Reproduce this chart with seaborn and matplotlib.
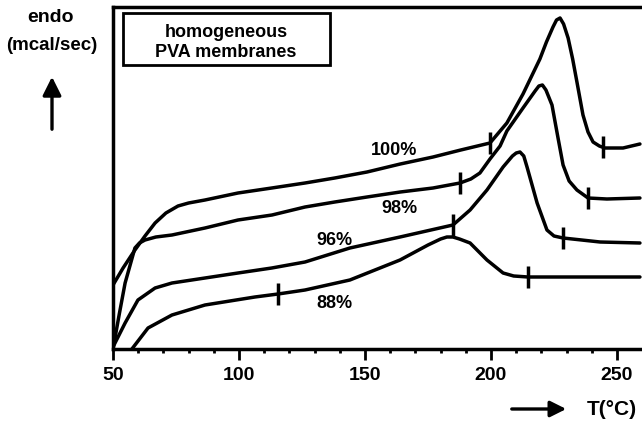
import numpy as np
import pandas as pd
import matplotlib
matplotlib.use("Agg")
import matplotlib.pyplot as plt
from matplotlib.patches import Rectangle, FancyArrowPatch
from matplotlib.ticker import MultipleLocator
import seaborn as sns

# DSC heating scans of homogeneous PVA membranes (degree of hydrolysis)
# temperature in deg C, heat flow in arbitrary units (endo up)
t_100 = [50, 54, 58.7, 62.7, 66.7, 71, 75.8, 80, 86.5, 99.6, 113, 126.2, 138, 150.8,
         164, 177, 188, 199.6, 206.3, 212.7, 219.4, 222, 224.6, 226, 227.4, 228.8,
         230.6, 232.4, 234.1, 236.5, 238.5, 240.5, 243, 245.2, 252.4, 259.1]
q_100 = [64, 81, 99, 113, 126, 136, 143, 146, 149, 156, 161, 166, 171, 177,
         185, 192, 199, 206, 226, 255, 290, 307, 322, 329, 331, 325,
         311, 290, 267, 234, 217, 207, 203, 201, 201, 205]

t_98 = [50, 52.5, 54.8, 58.7, 60.5, 62.7, 67, 73.4, 86.5, 99.6, 113.1, 126.2, 138, 150.8,
        164, 177, 187.7, 192, 195.6, 199.6, 203.6, 206.3, 212.7, 217.5, 219, 220.4,
        221.8, 224.2, 226.6, 228.6, 231, 234.1, 238.5, 246, 259.1]
q_98 = [0, 35, 66, 101, 106, 109, 112, 114, 121, 129, 134, 142, 147, 152,
        157, 161, 166, 170, 176, 190, 203, 218, 241, 258, 263, 264,
        259, 244, 211, 184, 168, 159, 151, 150, 151]

t_96 = [50, 54.8, 59.9, 66.7, 73.4, 86.5, 99.6, 113, 126.2, 144, 163.9, 184.9, 191.7,
        198.4, 204.8, 208.5, 210, 211.5, 213, 214.3, 218.3, 222.2, 225, 228.6, 243.3, 259.1]
q_96 = [2, 26, 49, 61, 66, 71, 76, 81, 87, 101, 112, 124, 139,
        159, 182, 193, 196, 197, 193, 182, 146, 119, 113, 111, 107, 106]

t_88 = [57.5, 63.9, 73.4, 86.5, 106.3, 115.5, 126.2, 144, 163.9, 175, 180, 182.5, 184.9,
        187.5, 191.7, 198.4, 204.8, 209, 214.7, 232.5, 259.1]
q_88 = [0, 21, 34, 44, 52, 55, 59, 69, 89, 104, 110, 112, 112,
        110, 106, 89, 76, 73, 72, 72, 72]

labels = ["100%", "98%", "96%", "88%"]
# onset / end of the melting endotherm for each membrane
onset = [199.6, 187.7, 184.9, 115.5]
endset = [244.4, 238.5, 228.6, 214.7]
label_t = [161.5, 163.5, 138, 138]
label_q = [199, 141, 109, 46]

xticks = [50, 100, 150, 200, 250]

curves = [(t_100, q_100), (t_98, q_98), (t_96, q_96), (t_88, q_88)]
df = pd.concat(
    [pd.DataFrame({"T": t, "q": q, "sample": lab}) for (t, q), lab in zip(curves, labels)],
    ignore_index=True,
)

sns.set_theme(style="white")
plt.rcParams["font.family"] = ["Liberation Sans", "DejaVu Sans"]
plt.rcParams["font.weight"] = "bold"
plt.rcParams["text.color"] = "black"
plt.rcParams["xtick.color"] = "black"
plt.rcParams["xtick.labelcolor"] = "black"

fig = plt.figure(figsize=(6.42, 4.23), dpi=100)
ax = fig.add_axes([113 / 642, 74 / 423, 529 / 642, 342 / 423])

sns.lineplot(data=df, x="T", y="q", hue="sample", palette=["black"] * 4,
             sort=False, estimator=None, linewidth=2.5, legend=False, ax=ax)
for ln in ax.lines:
    ln.set_solid_joinstyle("round")
    ln.set_solid_capstyle("round")

# short vertical marks at onset and end of each transition
for (t, q), t_on, t_end in zip(curves, onset, endset):
    for tm in (t_on, t_end):
        qm = np.interp(tm, t, q)
        ax.vlines(tm, qm - 11, qm + 11, color="black", linewidth=2.5)

for lab, lt, lq in zip(labels, label_t, label_q):
    ax.text(lt, lq, lab, ha="center", va="center", fontsize=13, fontweight="bold",
            color="black")

ax.set_xlim(50, 50 + 529 / 2.52)
ax.set_ylim(0, 342)
ax.set_xticks(xticks)
ax.set_xticklabels([str(v) for v in xticks], fontsize=14, fontweight="bold", color="black")
ax.xaxis.set_minor_locator(MultipleLocator(10))
ax.set_yticks([])
ax.tick_params(axis="x", which="major", direction="out", length=8, width=2,
               pad=5, bottom=True, color="black")
ax.tick_params(axis="x", which="minor", direction="out", length=3, width=2,
               bottom=True, color="black")
ax.set_xlabel("")
ax.set_ylabel("")
for side in ("left", "top", "bottom"):
    ax.spines[side].set_color("black")
    ax.spines[side].set_linewidth(2.5)
ax.spines["right"].set_visible(False)

# title box inside the plot
box = Rectangle((0.019, 0.830), 0.391, 0.1525, transform=ax.transAxes,
                fill=False, edgecolor="black", linewidth=2)
ax.add_patch(box)
ax.text(0.2136, 0.897, "homogeneous\nPVA membranes", transform=ax.transAxes,
        ha="center", va="center", fontsize=13, fontweight="bold", linespacing=1.25,
        color="black")

# y-axis caption with upward arrow
fig.text(50 / 642, 1 - 18 / 423, "endo", ha="center", va="center",
         fontsize=14, fontweight="bold", color="black")
fig.text(52 / 642, 1 - 45 / 423, "(mcal/sec)", ha="center", va="center",
         fontsize=13.5, fontweight="bold", color="black")
fig.patches.append(FancyArrowPatch((52 / 642, 1 - 132 / 423), (52 / 642, 1 - 74 / 423),
                                   transform=fig.transFigure, arrowstyle="-|>",
                                   mutation_scale=28, color="black", linewidth=2.4))

# x-axis caption with rightward arrow
fig.patches.append(FancyArrowPatch((509 / 642, 1 - 409 / 423), (569 / 642, 1 - 409 / 423),
                                   transform=fig.transFigure, arrowstyle="-|>",
                                   mutation_scale=24, color="black", linewidth=2.4))
fig.text(587 / 642, 1 - 409 / 423, "T(°C)", ha="left", va="center",
         fontsize=15, fontweight="bold", color="black")

fig.savefig("out.png", dpi=100)
